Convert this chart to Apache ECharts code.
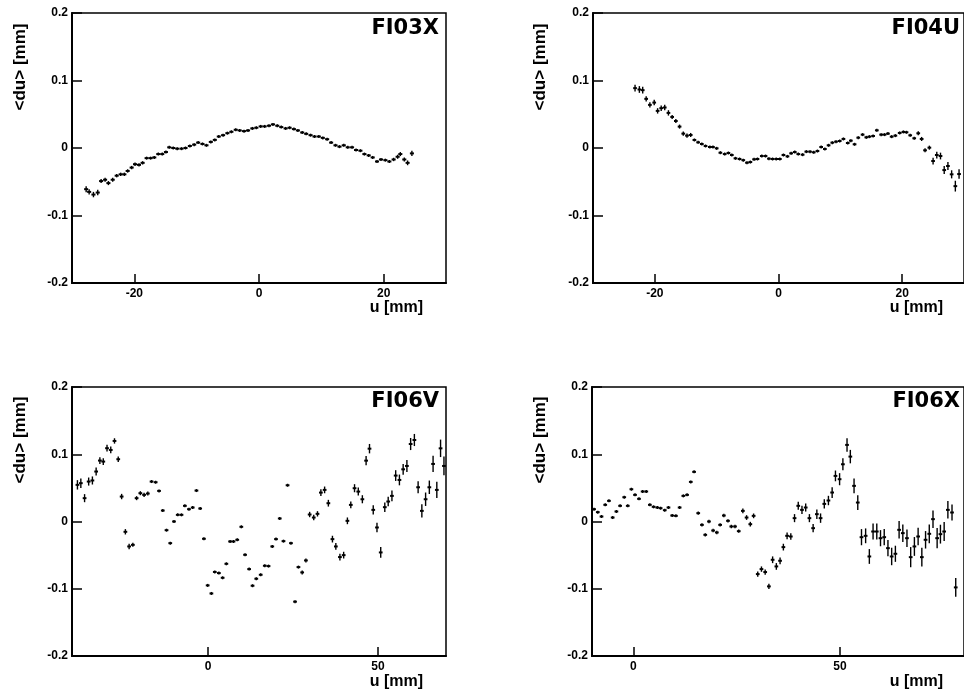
<!DOCTYPE html>
<html>
<head>
<meta charset="utf-8">
<script src="https://cdn.jsdelivr.net/npm/echarts@6/dist/echarts.min.js"></script>
<style>html,body{margin:0;padding:0;background:#fff}#c{width:964px;height:696px}</style>
</head>
<body>
<div id="c"></div>
<script>
// ---------- data ----------
var titles = ['FI03X', 'FI04U', 'FI06V', 'FI06X'];
var yTickValues = [-0.2, -0.1, 0, 0.1, 0.2];
var xTicks03X = [-20, 0, 20];
var xTicks04U = [-20, 0, 20];
var xTicks06V = [0, 50];
var xTicks06X = [0, 50];

var u03X = [-27.73,-27.25,-26.56,-25.87,-25.33,-24.69,-24.16,-23.47,-22.83,-22.19,-21.60,-21.07,-20.43,-19.89,-19.25,-18.67,-18.03,-17.39,-16.80,-16.16,-15.52,-14.93,-14.40,-13.76,-13.12,-12.43,-11.79,-11.09,-10.40,-9.76,-9.07,-8.43,-7.73,-7.09,-6.45,-5.76,-5.07,-4.43,-3.73,-3.09,-2.40,-1.76,-1.07,-0.43,0.27,0.91,1.60,2.24,2.93,3.57,4.27,4.91,5.60,6.24,6.93,7.57,8.27,8.91,9.60,10.24,10.93,11.57,12.27,12.91,13.60,14.24,14.93,15.57,16.27,16.91,17.60,18.24,18.93,19.57,20.27,20.91,21.60,22.24,22.67,23.31,23.84,24.53];
var du03X = [-0.061,-0.065,-0.069,-0.066,-0.049,-0.047,-0.052,-0.047,-0.041,-0.039,-0.039,-0.034,-0.029,-0.024,-0.025,-0.022,-0.015,-0.015,-0.014,-0.009,-0.009,-0.006,0.001,0.000,-0.001,-0.001,0.000,0.003,0.005,0.008,0.006,0.004,0.009,0.012,0.017,0.019,0.022,0.024,0.027,0.026,0.025,0.026,0.029,0.030,0.032,0.032,0.033,0.035,0.033,0.031,0.029,0.030,0.028,0.026,0.023,0.021,0.019,0.017,0.017,0.015,0.013,0.008,0.004,0.002,0.004,0.001,0.001,-0.003,-0.004,-0.009,-0.011,-0.014,-0.020,-0.017,-0.018,-0.020,-0.017,-0.013,-0.009,-0.017,-0.022,-0.008];
var err03X = [0.0045,0.004,0.004,0.004,0.003,0.003,0.003,0.003,0.0025,0.0025,0.0025,0.0025,0.0025,0.0025,0.0025,0.0025,0.0015,0.0015,0.0015,0.0015,0.0015,0.0015,0.0015,0.0015,0.0015,0.0015,0.0015,0.0015,0.0015,0.0015,0.0015,0.0015,0.0015,0.0015,0.0015,0.0015,0.0015,0.0015,0.0015,0.0015,0.0015,0.0015,0.0015,0.0015,0.0015,0.0015,0.0015,0.0015,0.0015,0.0015,0.0015,0.0015,0.0015,0.0015,0.0015,0.0015,0.0015,0.0015,0.0015,0.0015,0.0015,0.0015,0.0015,0.0015,0.0015,0.0015,0.0015,0.0015,0.0015,0.0015,0.0015,0.0015,0.0015,0.0015,0.002,0.002,0.0025,0.003,0.003,0.003,0.0035,0.004];

var u04U = [-23.2,-22.5,-21.96,-21.4,-20.8,-20.1,-19.55,-18.97,-18.4,-17.8,-17.2,-16.6,-16.0,-15.4,-14.8,-14.2,-13.6,-13.0,-12.4,-11.8,-11.1,-10.6,-10.0,-9.4,-8.7,-8.1,-7.55,-6.96,-6.3,-5.7,-5.1,-4.55,-3.95,-3.4,-2.7,-2.1,-1.55,-0.96,-0.37,0.22,0.8,1.45,2.04,2.63,3.2,3.9,4.5,5.1,5.7,6.3,6.9,7.5,8.1,8.7,9.3,9.9,10.5,11.2,11.7,12.3,12.9,13.6,14.2,14.7,15.3,15.9,16.6,17.15,17.7,18.3,18.9,19.6,20.2,20.7,21.3,21.95,22.6,23.15,23.7,24.4,25.0,25.6,26.2,26.8,27.4,28.0,28.6,29.2];
var du04U = [0.0887,0.0867,0.0857,0.0728,0.0639,0.0673,0.055,0.059,0.060,0.052,0.046,0.040,0.0317,0.0213,0.0183,0.0193,0.0119,0.0084,0.0059,0.003,0.0015,0.0015,-0.0005,-0.007,-0.009,-0.0074,-0.0104,-0.0153,-0.0163,-0.018,-0.0218,-0.0208,-0.0168,-0.0163,-0.0119,-0.0119,-0.0158,-0.0163,-0.0163,-0.0163,-0.0104,-0.0124,-0.0079,-0.006,-0.009,-0.0099,-0.0054,-0.0054,-0.0064,-0.0045,0.0015,-0.0015,0.004,0.0079,0.0094,0.0104,0.0134,0.0074,0.0109,0.0055,0.0153,0.0198,0.0158,0.0168,0.0178,0.0262,0.0198,0.0198,0.0213,0.0168,0.0183,0.0223,0.0238,0.0233,0.0188,0.0144,0.0218,0.0134,-0.0034,0.0005,-0.0193,-0.0104,-0.0119,-0.0327,-0.0267,-0.039,-0.0565,-0.0386];
var err04U = [0.005,0.005,0.005,0.004,0.004,0.004,0.004,0.004,0.004,0.004,0.003,0.003,0.003,0.003,0.003,0.003,0.0015,0.0015,0.0015,0.0015,0.0015,0.0015,0.0015,0.0015,0.0015,0.0015,0.0015,0.0015,0.0015,0.0015,0.0015,0.0015,0.0015,0.0015,0.0015,0.0015,0.0015,0.0015,0.0015,0.0015,0.0015,0.0015,0.0015,0.0015,0.0015,0.0015,0.0015,0.0015,0.0015,0.0015,0.0015,0.0015,0.0015,0.0015,0.0015,0.0015,0.0015,0.0015,0.0015,0.0015,0.0015,0.0015,0.0015,0.0015,0.0015,0.0015,0.0015,0.0015,0.0015,0.0015,0.0015,0.0015,0.0015,0.0015,0.0015,0.0015,0.003,0.003,0.003,0.003,0.005,0.005,0.005,0.006,0.006,0.006,0.008,0.007];

var u06V = [-38.4,-37.4,-36.3,-35.1,-34.0,-32.9,-31.8,-30.8,-29.7,-28.6,-27.5,-26.4,-25.4,-24.3,-23.2,-22.1,-21.0,-19.9,-18.8,-17.7,-16.6,-15.4,-14.4,-13.3,-12.2,-11.1,-10.0,-8.9,-7.8,-6.8,-5.6,-4.5,-3.4,-2.3,-1.2,-0.1,1.0,2.0,3.2,4.3,5.4,6.5,7.5,8.6,9.8,10.9,12.1,13.1,14.2,15.5,16.7,17.8,18.9,20.0,21.1,22.2,23.4,24.4,25.6,26.6,27.7,28.8,29.9,31.1,32.2,33.2,34.3,35.4,36.6,37.6,38.8,39.9,41.0,42.0,43.1,44.2,45.4,46.5,47.5,48.6,49.7,50.8,52.0,53.0,54.1,55.2,56.3,57.4,58.5,59.6,60.7,61.8,62.9,64.0,65.1,66.2,67.3,68.4,69.4];
var du06V = [0.0545,0.057,0.0347,0.0594,0.061,0.0743,0.0906,0.0891,0.109,0.1064,0.1198,0.0926,0.0371,-0.0153,-0.0371,-0.0347,0.0347,0.0421,0.0396,0.0416,0.0594,0.0584,0.0455,0.0163,-0.0129,-0.0322,0.0,0.0099,0.0099,0.0233,0.0183,0.0208,0.046,0.0193,-0.0257,-0.095,-0.107,-0.075,-0.0767,-0.0837,-0.0629,-0.0297,-0.0297,-0.0272,-0.0079,-0.0495,-0.0708,-0.0955,-0.0851,-0.0792,-0.0658,-0.0663,-0.0371,-0.0262,0.0045,-0.0292,0.0539,-0.0322,-0.1192,-0.0678,-0.0757,-0.0579,0.0104,0.0059,0.0114,0.043,0.047,0.0272,-0.0262,-0.0371,-0.0529,-0.05,0.001,0.0247,0.0495,0.0445,0.0331,0.0905,0.1083,0.0173,-0.0089,-0.046,0.0213,0.0297,0.0381,0.0683,0.0618,0.0776,0.0826,0.1152,0.1212,0.0509,0.0158,0.0331,0.0509,0.0856,0.047,0.1088,0.0826];
var err06V = [0.007,0.007,0.006,0.006,0.006,0.006,0.005,0.005,0.005,0.005,0.004,0.004,0.004,0.004,0.004,0.003,0.003,0.003,0.003,0.003,0.002,0.002,0.002,0.002,0.0015,0.0015,0.0015,0.0015,0.0015,0.0015,0.0015,0.0015,0.0015,0.0015,0.0015,0.0015,0.0015,0.0015,0.0015,0.0015,0.0015,0.0015,0.0015,0.0015,0.0015,0.0015,0.0015,0.0015,0.0015,0.0015,0.0015,0.0015,0.0015,0.0015,0.0015,0.0015,0.0015,0.0015,0.0015,0.0015,0.003,0.003,0.004,0.004,0.004,0.005,0.005,0.005,0.005,0.005,0.005,0.005,0.005,0.005,0.006,0.006,0.006,0.007,0.007,0.007,0.007,0.008,0.007,0.007,0.008,0.008,0.008,0.008,0.009,0.009,0.009,0.009,0.01,0.01,0.01,0.012,0.012,0.013,0.014];

var u06X = [-9.5,-8.6,-7.7,-6.8,-5.9,-5.0,-4.1,-3.2,-2.2,-1.35,-0.47,0.41,1.37,2.25,3.13,4.0,4.9,5.8,6.6,7.6,8.5,9.4,10.3,11.2,12.1,13.0,13.9,14.7,15.7,16.6,17.4,18.3,19.3,20.2,21.0,21.9,22.9,23.7,24.6,25.5,26.5,27.4,28.3,29.1,30.1,31.0,31.9,32.8,33.7,34.6,35.5,36.3,37.2,38.1,39.0,39.9,40.8,41.7,42.6,43.5,44.4,45.3,46.2,47.2,48.1,48.9,49.9,50.7,51.7,52.5,53.4,54.3,55.2,56.2,57.1,58.0,58.9,59.8,60.7,61.6,62.5,63.4,64.3,65.2,66.2,67.1,68.0,68.9,69.8,70.7,71.6,72.5,73.5,74.3,75.2,76.1,77.1,78.0];
var du06X = [0.0183,0.0139,0.0074,0.0248,0.0307,0.0059,0.0149,0.0233,0.0361,0.0233,0.048,0.0396,0.0337,0.0446,0.0446,0.0248,0.0218,0.0208,0.0198,0.0168,0.0208,0.0089,0.0084,0.0208,0.0381,0.0396,0.0589,0.0738,0.0124,-0.005,-0.0198,0.0,-0.0134,-0.0163,-0.005,0.0089,0.001,-0.0074,-0.0074,-0.0144,0.0158,0.0059,-0.004,0.0084,-0.0782,-0.0708,-0.0752,-0.0965,-0.0569,-0.0668,-0.0584,-0.0381,-0.0213,-0.0223,0.005,0.0233,0.0173,0.0208,0.005,-0.0099,0.0109,0.005,0.0262,0.0312,0.0431,0.0678,0.0629,0.0851,0.1139,0.0965,0.053,0.0282,-0.0233,-0.0213,-0.052,-0.0149,-0.0149,-0.0248,-0.0233,-0.0396,-0.052,-0.048,-0.0124,-0.0173,-0.0248,-0.053,-0.0371,-0.0223,-0.053,-0.0272,-0.0183,0.0035,-0.0248,-0.0188,-0.0149,0.0173,0.0134,-0.098];
var err06X = [0.0015,0.0015,0.0015,0.0015,0.0015,0.0015,0.0015,0.0015,0.0015,0.0015,0.0015,0.0015,0.0015,0.0015,0.0015,0.0015,0.0015,0.0015,0.0015,0.0015,0.0015,0.0015,0.0015,0.0015,0.002,0.002,0.002,0.002,0.0025,0.0025,0.0025,0.0025,0.0025,0.0025,0.0025,0.0025,0.0025,0.0025,0.0025,0.0025,0.0035,0.0035,0.0035,0.0035,0.004,0.004,0.004,0.004,0.005,0.005,0.005,0.005,0.005,0.005,0.006,0.006,0.006,0.006,0.006,0.006,0.007,0.007,0.007,0.007,0.008,0.008,0.009,0.009,0.01,0.01,0.011,0.011,0.012,0.011,0.011,0.012,0.012,0.012,0.012,0.012,0.013,0.012,0.013,0.013,0.013,0.015,0.014,0.013,0.014,0.013,0.014,0.013,0.015,0.014,0.014,0.013,0.012,0.014];

// ---------- layout / style ----------
var panels = [
  {u: u03X, du: du03X, err: err03X, ticks: xTicks03X, min: -30, max: 30, bin: 0.65, grid: {left: 72, top: 13, width: 374, height: 270}},
  {u: u04U, du: du04U, err: err04U, ticks: xTicks04U, min: -30, max: 30, bin: 0.6, grid: {left: 593, top: 13, width: 374, height: 270}},
  {u: u06V, du: du06V, err: err06V, ticks: xTicks06V, min: -40, max: 70, bin: 1.1, grid: {left: 72, top: 387, width: 374, height: 269}},
  {u: u06X, du: du06X, err: err06X, ticks: xTicks06X, min: -10, max: 80, bin: 0.9, grid: {left: 592, top: 387, width: 375, height: 269}}
];
var FONT = '"Liberation Sans", Arial, Helvetica, sans-serif';

function makeRender(bin) {
  return function (params, api) {
    var x = api.value(0), y = api.value(1), e = api.value(2);
    var p = api.coord([x, y]);
    var pl = api.coord([x - bin / 2, y]);
    var pr = api.coord([x + bin / 2, y]);
    var pt = api.coord([x, y + e]);
    var pb = api.coord([x, y - e]);
    var top = Math.min(pt[1], p[1] - 1.5), bot = Math.max(pb[1], p[1] + 1.5);
    return {
      type: 'group',
      children: [
        {type: 'line', shape: {x1: pl[0], y1: p[1], x2: pr[0], y2: p[1]}, style: {stroke: '#000', lineWidth: 2}},
        {type: 'line', shape: {x1: p[0], y1: top, x2: p[0], y2: bot}, style: {stroke: '#000', lineWidth: 1.4}}
      ]
    };
  };
}

var grids = [], xAxes = [], yAxes = [], series = [], graphics = [];
panels.forEach(function (pn, i) {
  grids.push(Object.assign({show: true, borderColor: '#000', borderWidth: 1.5, backgroundColor: 'transparent'}, pn.grid));
  xAxes.push({
    type: 'value', gridIndex: i, min: pn.min, max: pn.max,
    axisLine: {show: true, onZero: false, lineStyle: {color: '#000', width: 2}},
    axisTick: {show: true, inside: true, length: 9, lineStyle: {color: '#000', width: 1.5}, customValues: pn.ticks},
    axisLabel: {show: true, customValues: pn.ticks, margin: 5, color: '#000', fontFamily: FONT, fontWeight: 'bold', fontSize: 12},
    splitLine: {show: false}
  });
  yAxes.push({
    type: 'value', gridIndex: i, min: -0.2, max: 0.2,
    axisLine: {show: true, onZero: false, lineStyle: {color: '#000', width: 2}},
    axisTick: {show: true, inside: true, length: 10, lineStyle: {color: '#000', width: 1.5}, customValues: yTickValues},
    axisLabel: {show: true, customValues: yTickValues, margin: 4, color: '#000', fontFamily: FONT, fontWeight: 'bold', fontSize: 12,
      formatter: function (v) { return Math.abs(v) < 1e-9 ? '0' : String(Math.round(v * 10) / 10); }},
    splitLine: {show: false}
  });
  var data = pn.u.map(function (u, k) { return [u, pn.du[k], pn.err[k]]; });
  series.push({
    type: 'custom', xAxisIndex: i, yAxisIndex: i, clip: true, silent: true, animation: false,
    renderItem: makeRender(pn.bin), data: data, encode: {x: 0, y: 1}
  });
});

var ynamePos = [[20, 67], [540, 67], [20, 440], [540, 440]];
var unamePos = [[423, 308], [943, 308], [423, 682], [943, 682]];
var titlePos = [[439, 29], [960, 29], [439, 402], [960, 402]];
for (var i = 0; i < 4; i++) {
  graphics.push({type: 'text', x: ynamePos[i][0], y: ynamePos[i][1], rotation: Math.PI / 2,
    style: {text: '<du> [mm]', fill: '#000', font: 'bold 17px ' + FONT, textAlign: 'center', textVerticalAlign: 'middle'}});
  graphics.push({type: 'text', x: unamePos[i][0], y: unamePos[i][1],
    style: {text: 'u [mm]', fill: '#000', font: 'bold 16px ' + FONT, textAlign: 'right', textVerticalAlign: 'middle'}});
  graphics.push({type: 'text', x: titlePos[i][0], y: titlePos[i][1],
    style: {text: titles[i], fill: '#000', font: 'bold 21px "DejaVu Sans", sans-serif', textAlign: 'right', textVerticalAlign: 'middle'}});
}

var chart = echarts.init(document.getElementById('c'), null, {renderer: 'canvas', width: 964, height: 696});
chart.setOption({
  animation: false,
  backgroundColor: '#fff',
  grid: grids, xAxis: xAxes, yAxis: yAxes, series: series, graphic: graphics
});
</script>
</body>
</html>
